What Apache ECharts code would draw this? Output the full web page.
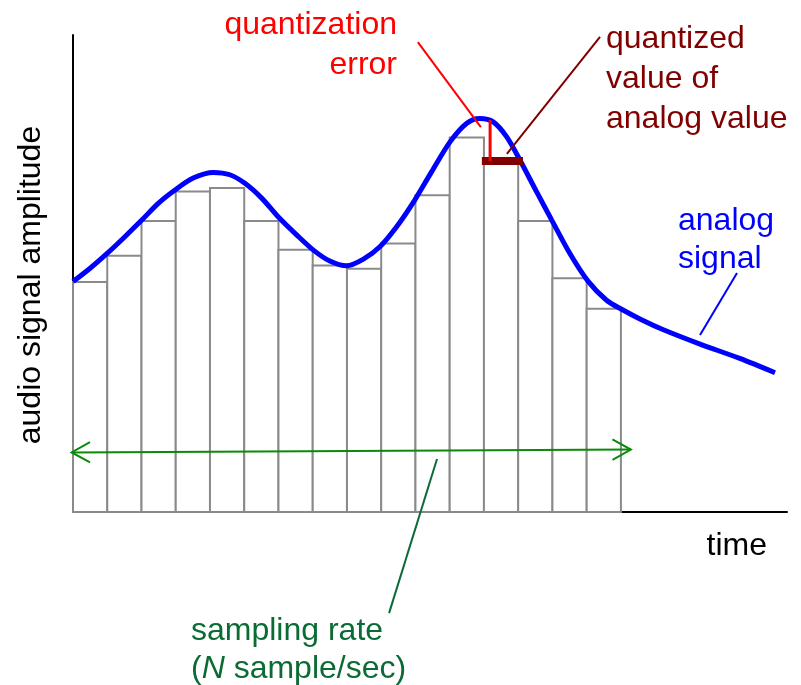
<!DOCTYPE html>
<html>
<head>
<meta charset="utf-8">
<script src="https://cdn.jsdelivr.net/npm/echarts@6/dist/echarts.min.js"></script>
<style>
  html, body { margin: 0; padding: 0; background: #fff; }
  #main { width: 801px; height: 685px; }
</style>
</head>
<body>
<div id="main"></div>
<script>
// sample index (1 unit = one sampling period) and amplitude (0..10)
let sampleAmp = [4.82, 5.37, 6.10, 6.72, 6.79, 6.10, 5.50, 5.17, 5.10, 5.63, 6.64, 7.85, 7.36, 6.10, 4.90, 4.26];

// analog signal
let signalTime = [0, 0.50, 0.98, 1.47, 2.01, 2.49, 2.98, 3.51, 4.10, 4.58, 5.02, 5.51, 5.99, 6.53, 7.02, 7.50, 7.99, 8.48, 8.96, 9.45, 9.98, 10.47, 11.01, 11.50, 11.88, 12.27, 12.66, 13.05, 13.54, 13.98, 14.51, 15.05, 15.58, 16.02, 16.60, 17.24, 18.31, 19.47, 20.50];
let signalAmp = [4.83, 5.11, 5.41, 5.74, 6.12, 6.47, 6.75, 7.00, 7.12, 7.07, 6.89, 6.58, 6.19, 5.81, 5.49, 5.26, 5.16, 5.30, 5.56, 5.98, 6.54, 7.13, 7.76, 8.15, 8.25, 8.18, 7.87, 7.38, 6.71, 6.12, 5.42, 4.83, 4.44, 4.25, 4.03, 3.82, 3.52, 3.22, 2.92];

// quantization error at the 13th sample
let errorLine = [[12.18, 8.22], [12.18, 7.36]];
let quantLine = [[11.94, 7.36], [13.14, 7.36]];

// sampling-rate arrow
let rateArrow = [[-0.04, 1.25, 16.29, 1.31]];

// annotation leader lines
let leaderError = [[10.07, 9.85], [11.91, 8.07]];
let leaderQuant = [[15.39, 9.96], [12.67, 7.51]];
let leaderSignal = [[19.39, 5.01], [18.31, 3.71]];
let leaderRate = [[10.63, 1.11], [9.23, -2.12]];

let myChart = echarts.init(document.getElementById('main'));
let font = 'Liberation Sans, Arial, sans-serif';
let fs = 32;

function leader(data, color) {
  return {
    type: 'line',
    data: data,
    clip: false,
    symbol: 'none',
    silent: true,
    z: 6,
    lineStyle: { color: color, width: 2 }
  };
}

var option = {
  animation: false,
  backgroundColor: '#fff',
  grid: { left: 73, right: 14, top: 35, bottom: 173 },
  xAxis: {
    type: 'value',
    min: 0,
    max: 20.85,
    axisLine: { show: true, lineStyle: { color: '#000', width: 2 } },
    axisTick: { show: false },
    axisLabel: { show: false },
    splitLine: { show: false }
  },
  yAxis: {
    type: 'value',
    min: 0,
    max: 10,
    axisLine: { show: true, lineStyle: { color: '#000', width: 2 } },
    axisTick: { show: false },
    axisLabel: { show: false },
    splitLine: { show: false }
  },
  graphic: [
    {
      type: 'text', x: 31, y: 285, rotation: Math.PI / 2,
      style: { text: 'audio signal amplitude', font: fs + 'px ' + font, fill: '#000', textAlign: 'center', textVerticalAlign: 'middle' }
    },
    {
      type: 'text', x: 767, y: 546,
      style: { text: 'time', font: fs + 'px ' + font, fill: '#000', textAlign: 'right', textVerticalAlign: 'middle' }
    },
    {
      type: 'text', x: 397, y: 45,
      style: { text: 'quantization\nerror', font: fs + 'px ' + font, lineHeight: 40, fill: '#ff0000', textAlign: 'right', textVerticalAlign: 'middle' }
    },
    {
      type: 'text', x: 606, y: 79,
      style: { text: 'quantized\nvalue of\nanalog value', font: fs + 'px ' + font, lineHeight: 40, fill: '#800000', textAlign: 'left', textVerticalAlign: 'middle' }
    },
    {
      type: 'text', x: 678, y: 240,
      style: { text: 'analog\nsignal', font: fs + 'px ' + font, lineHeight: 38, fill: '#0000ff', textAlign: 'left', textVerticalAlign: 'middle' }
    },
    {
      type: 'text', x: 191, y: 650,
      style: {
        text: 'sampling rate\n({i|N} sample/sec)',
        font: fs + 'px ' + font, lineHeight: 38, fill: '#0b6b34', textAlign: 'left', textVerticalAlign: 'middle',
        rich: { i: { fontStyle: 'italic', fontSize: fs, fontFamily: font, fill: '#0b6b34', lineHeight: 38 } }
      }
    }
  ],
  series: [
    {
      type: 'custom',
      z: 1,
      silent: true,
      data: sampleAmp.map(function (v, i) { return [i, v]; }),
      renderItem: function (params, api) {
        let i = api.value(0);
        let p0 = api.coord([i, api.value(1)]);
        let p1 = api.coord([i + 1, 0]);
        return {
          type: 'rect',
          shape: { x: p0[0], y: p0[1], width: p1[0] - p0[0], height: p1[1] - p0[1] },
          style: { fill: '#fff', stroke: '#8a8a8a', lineWidth: 2 }
        };
      }
    },
    {
      type: 'custom',
      z: 3,
      silent: true,
      data: rateArrow,
      renderItem: function (params, api) {
        let a = api.coord([api.value(0), api.value(1)]);
        let b = api.coord([api.value(2), api.value(3)]);
        let dx = b[0] - a[0], dy = b[1] - a[1];
        let len = Math.sqrt(dx * dx + dy * dy);
        let ux = dx / len, uy = dy / len;
        let arm = 21, ang = 29 * Math.PI / 180;
        function head(tip, sx, sy) {
          let c = Math.cos(ang), s = Math.sin(ang);
          let p1 = [tip[0] + arm * (sx * c - sy * s), tip[1] + arm * (sx * s + sy * c)];
          let p2 = [tip[0] + arm * (sx * c + sy * s), tip[1] + arm * (-sx * s + sy * c)];
          return { type: 'polyline', shape: { points: [p1, tip, p2] }, style: { stroke: '#0a8a0a', lineWidth: 2, fill: null } };
        }
        return {
          type: 'group',
          children: [
            { type: 'line', shape: { x1: a[0], y1: a[1], x2: b[0], y2: b[1] }, style: { stroke: '#0a8a0a', lineWidth: 2 } },
            head(a, ux, uy),
            head(b, -ux, -uy)
          ]
        };
      }
    },
    {
      type: 'line',
      z: 4,
      silent: true,
      smooth: 0.3,
      symbol: 'none',
      data: signalTime.map(function (t, i) { return [t, signalAmp[i]]; }),
      lineStyle: { color: '#0000ff', width: 5 }
    },
    {
      type: 'line', z: 5, silent: true, symbol: 'none',
      data: quantLine,
      lineStyle: { color: '#800000', width: 8 }
    },
    {
      type: 'line', z: 6, silent: true, symbol: 'none',
      data: errorLine,
      lineStyle: { color: '#ff0000', width: 3 }
    },
    leader(leaderError, '#ff0000'),
    leader(leaderQuant, '#800000'),
    leader(leaderSignal, '#0000ff'),
    leader(leaderRate, '#0b6b34')
  ]
};

myChart.setOption(option);
window.addEventListener('resize', function () {
  myChart.resize();
});
</script>
</body>
</html>
